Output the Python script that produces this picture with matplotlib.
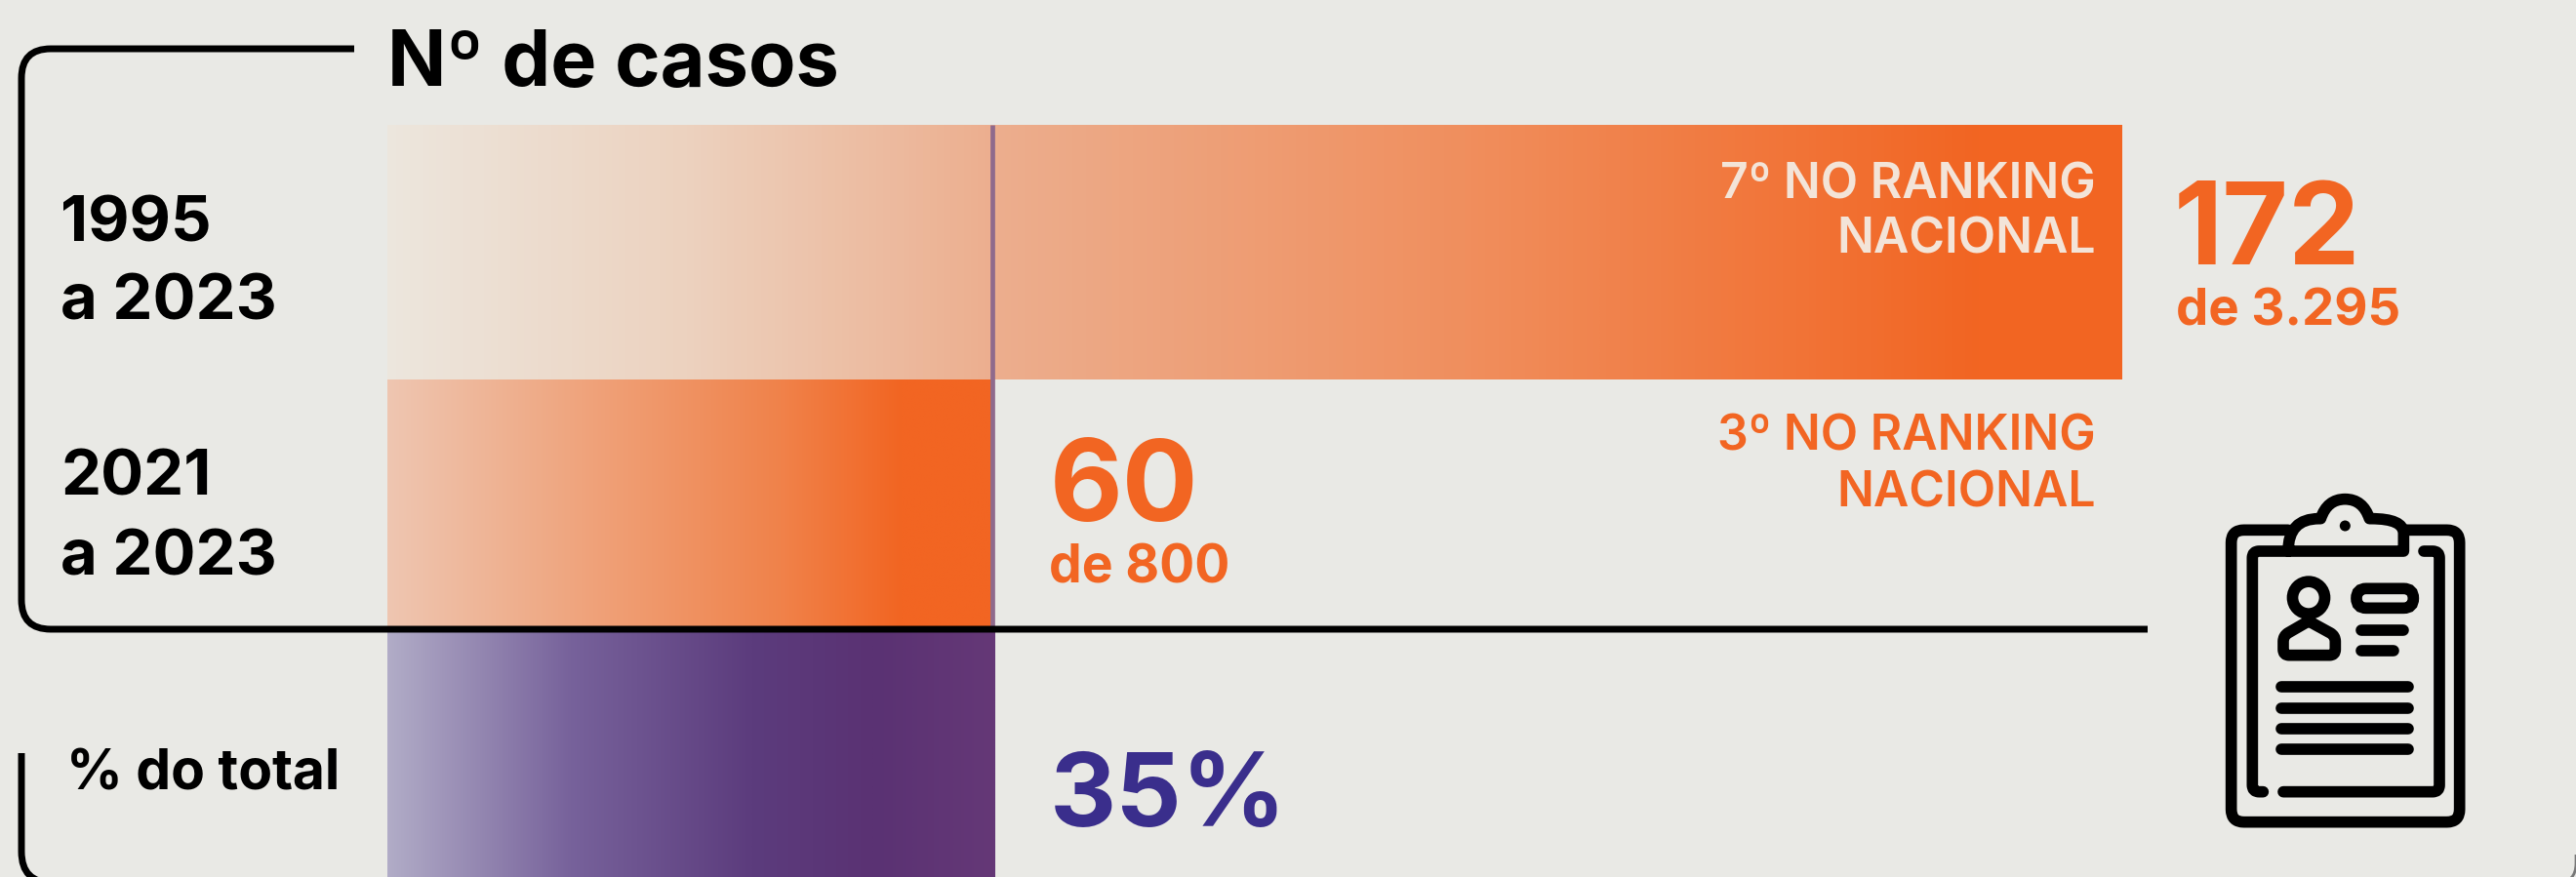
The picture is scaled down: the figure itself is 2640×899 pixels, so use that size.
#!/usr/bin/env python3
"""Casos por periodo: barras em gradiente com colchetes e icone de prancheta."""
import matplotlib
matplotlib.use('Agg')
import matplotlib.pyplot as plt
import numpy as np
from matplotlib.colors import LinearSegmentedColormap
from matplotlib.path import Path
from matplotlib.patches import PathPatch, Ellipse, FancyBboxPatch

W, H = 2640, 899
BG = '#E9E9E5'
ORANGE = '#F26522'
BLUE = '#3A2E8C'
FONT = ['Inter', 'DejaVu Sans']

# data
periods = ['1995\na 2023', '2021\na 2023']
cases = [172, 60]
totals = ['3.295', '800']
ranks = ['7º NO RANKING\nNACIONAL', '3º NO RANKING\nNACIONAL']
share_pct = 35
share_label = '% do total'
title = 'Nº de casos'

plt.rcParams['font.family'] = FONT
fig = plt.figure(figsize=(W / 100, H / 100), dpi=100, facecolor=BG)

# pixel canvas for text and drawn lines
ax = fig.add_axes([0, 0, 1, 1], zorder=2)
ax.set_xlim(0, W)
ax.set_ylim(H, 0)
ax.axis('off')
ax.patch.set_alpha(0)

# bar axes: x is number of cases, y stays in pixels
bx = fig.add_axes([397 / W, 0, (2175 - 397) / W, 1], zorder=1)
bx.axis('off')


def grad_bar(value, y0, y1, stops):
    cmap = LinearSegmentedColormap.from_list('g', stops)
    g = np.linspace(0, 1, 512).reshape(1, -1)
    bx.imshow(g, cmap=cmap, extent=[0, value, y1, y0], aspect='auto',
              interpolation='bilinear', vmin=0, vmax=1)


grad_bar(cases[0], 128, 389, [(0, '#ECE6DD'), (0.17, '#ECD2BF'), (0.35, '#ECAE8E'),
                              (0.62, '#F08F5E'), (0.92, ORANGE), (1, ORANGE)])
grad_bar(cases[1], 389, 644, [(0, '#EEC6B1'), (0.3, '#EFA680'), (0.65, '#F0824A'),
                              (0.85, ORANGE), (1, ORANGE)])
# percent bar is on the same scale, 100% = the 172 bar
grad_bar(cases[0] * share_pct / 100, 646, 899, [(0, '#B1ACC7'), (0.3, '#77629B'), (0.6, '#5C3C7D'),
                                                (0.8, '#5A3273'), (1, '#653877')])
bx.set_xlim(0, cases[0])
bx.set_ylim(H, 0)

# divider at the end of the 60 bar
split_x = 397 + (2175 - 397) * cases[1] / cases[0]
ax.plot([split_x, split_x], [128, 643], color='#8F6A8C', lw=3.4, solid_capstyle='butt', zorder=2)


def rounded_path(pts, r):
    """Polyline with rounded corners of radius r."""
    verts = [pts[0]]
    codes = [Path.MOVETO]
    for i in range(1, len(pts) - 1):
        p = np.array(pts[i], float)
        a = np.array(pts[i - 1], float)
        b = np.array(pts[i + 1], float)
        p1 = p + (a - p) / np.linalg.norm(a - p) * r
        p2 = p + (b - p) / np.linalg.norm(b - p) * r
        verts += [tuple(p1), tuple(p), tuple(p2)]
        codes += [Path.LINETO, Path.CURVE3, Path.CURVE3]
    verts.append(pts[-1])
    codes.append(Path.LINETO)
    return Path(verts, codes)


def stroke(path, lw, color='black', cap='butt'):
    ax.add_patch(PathPatch(path, fc='none', ec=color, lw=lw, capstyle=cap, joinstyle='round', zorder=3))


# brackets
stroke(rounded_path([(363, 50), (22, 50), (22, 645), (2201, 645)], 30), 5)
stroke(rounded_path([(22, 772), (22, 905), (70, 905)], 32), 5)
stroke(rounded_path([(2640, 876), (2640, 905), (2625, 905)], 20), 2, color='#777777')

# texts
ax.text(397, 88, title, fontsize=57, fontweight='bold', color='black', va='baseline', ha='left')
for (y1, y2), lab in zip([(247, 328), (507, 589)], periods):
    a, b = lab.split('\n')
    ax.text(62, y1, a, fontsize=47, fontweight='bold', color='black', va='baseline')
    ax.text(62, y2, b, fontsize=47, fontweight='bold', color='black', va='baseline')
ax.text(68, 810, share_label, fontsize=41, fontweight='bold', color='black', va='baseline')

ax.text(2228, 271, str(cases[0]), fontsize=84, fontweight='bold', color=ORANGE, va='baseline')
ax.text(2230, 334, 'de ' + totals[0], fontsize=38, fontweight='bold', color=ORANGE, va='baseline')
ax.text(1076, 534, str(cases[1]), fontsize=83, fontweight='bold', color=ORANGE, va='baseline')
ax.text(1075, 598, 'de ' + totals[1], fontsize=38.5, fontweight='bold', color=ORANGE, va='baseline')
ax.text(1076, 847, f'{share_pct}%', fontsize=76, fontweight='bold', color=BLUE, va='baseline')

for (y1, y2), lab, col in zip([(204, 259), (462, 520)], ranks, ['#F3E4D8', ORANGE]):
    a, b = lab.split('\n')
    ax.text(2148, y1, a, fontsize=36, fontweight='semibold', color=col, va='baseline', ha='right')
    ax.text(2148, y2, b, fontsize=36, fontweight='semibold', color=col, va='baseline', ha='right')


# clipboard icon, outline traced in crop coordinates
def ic(x, y):
    return (2260 + x / 3, 490 + y / 3)


def ic_line(pts, r=0, lw=8.4):
    pts = [ic(*p) for p in pts]
    stroke(rounded_path(pts, r) if r else Path(pts), lw, cap='round')


ic_line([(255, 160), (80, 160), (80, 1058), (782, 1058), (782, 160), (610, 160)], 13)
ic_line([(255, 225), (145, 225), (145, 965), (178, 965)], 7)
ic_line([(240, 965), (720, 965), (720, 225), (672, 225)], 7)
clip = Path([ic(*p) for p in [(255, 225), (255, 125), (350, 125), (355, 125), (375, 65), (430, 65),
                              (485, 65), (505, 125), (510, 125), (610, 125), (610, 170), (610, 225),
                              (590, 225), (255, 225)]],
            [Path.MOVETO, Path.CURVE3, Path.CURVE3, Path.LINETO, Path.CURVE3, Path.CURVE3,
             Path.CURVE3, Path.CURVE3, Path.LINETO, Path.CURVE3, Path.CURVE3, Path.LINETO,
             Path.LINETO, Path.LINETO])
stroke(clip, 8.4, cap='round')
ax.add_patch(Ellipse(ic(430, 147), 11, 11, fc='black', ec='none', zorder=3))
# person
ax.add_patch(Ellipse(ic(318, 368), 33, 33, fc='none', ec='black', lw=8.4, zorder=3))
ic_line([(318, 440), (240, 485), (240, 545), (400, 545), (400, 485), (318, 440)], 6)
# pill and short lines
x0, y0 = ic(465, 340)
x1, y1 = ic(640, 400)
ax.add_patch(FancyBboxPatch((x0 + 8, y0 + 8), x1 - x0 - 16, y1 - y0 - 16, boxstyle='round,pad=8,rounding_size=10',
                            fc='none', ec='black', lw=8.4, zorder=3))
ic_line([(480, 467), (610, 467)])
ic_line([(480, 531), (580, 531)])
for yy in [643, 707, 771, 835]:
    ic_line([(235, yy), (625, yy)])

fig.savefig('out.png', dpi=100, facecolor=BG)
